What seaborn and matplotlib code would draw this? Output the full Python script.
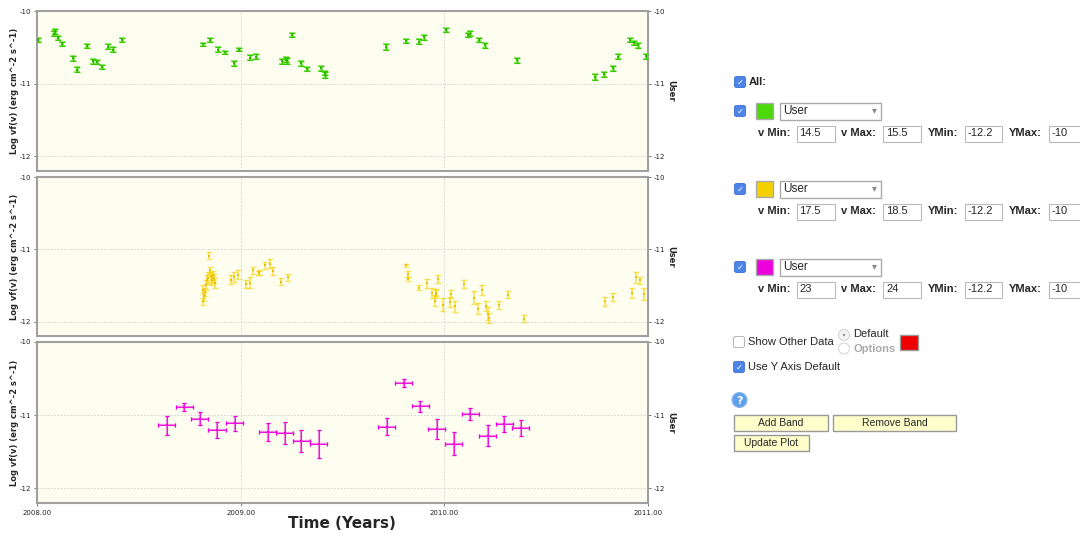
"""
Light curve panels (3 bands) + band control panel
"""

import matplotlib
matplotlib.use("Agg")
import matplotlib.pyplot as plt
from matplotlib.patches import Rectangle, FancyBboxPatch, Circle
import numpy as np
import pandas as pd
import seaborn as sns

# Band 1 (green, nu 14.5-15.5)
green_t = [2008.005, 2008.083, 2008.090, 2008.104, 2008.123, 2008.175, 2008.195,
           2008.247, 2008.273, 2008.297, 2008.317, 2008.347, 2008.371, 2008.415,
           2008.814, 2008.851, 2008.890, 2008.925, 2008.969, 2008.992, 2009.044,
           2009.077, 2009.204, 2009.222, 2009.226, 2009.250, 2009.294, 2009.327,
           2009.396, 2009.412, 2009.414, 2009.716, 2009.810, 2009.874, 2009.902,
           2010.010, 2010.118, 2010.127, 2010.170, 2010.200, 2010.358, 2010.740,
           2010.786, 2010.828, 2010.854, 2010.910, 2010.930, 2010.950, 2010.990]
green_y = [-10.40, -10.31, -10.28, -10.37, -10.45, -10.65, -10.81,
           -10.48, -10.69, -10.70, -10.77, -10.49, -10.53, -10.40,
           -10.46, -10.40, -10.53, -10.57, -10.72, -10.53, -10.64,
           -10.63, -10.69, -10.67, -10.69, -10.33, -10.72, -10.80,
           -10.79, -10.85, -10.88, -10.49, -10.41, -10.42, -10.36,
           -10.26, -10.33, -10.31, -10.40, -10.47, -10.68, -10.91,
           -10.87, -10.79, -10.63, -10.40, -10.44, -10.47, -10.62]
green_err = [0.030, 0.030, 0.030, 0.025, 0.030, 0.035, 0.035,
             0.025, 0.035, 0.030, 0.030, 0.030, 0.040, 0.025,
             0.025, 0.030, 0.030, 0.025, 0.035, 0.025, 0.040,
             0.035, 0.035, 0.035, 0.040, 0.030, 0.035, 0.030,
             0.035, 0.030, 0.035, 0.040, 0.030, 0.030, 0.035,
             0.025, 0.030, 0.030, 0.030, 0.035, 0.040, 0.040,
             0.035, 0.040, 0.035, 0.030, 0.030, 0.035, 0.035]

# Band 2 (yellow, nu 17.5-18.5)
yellow_t = [2008.843, 2008.815, 2008.819, 2008.817, 2008.823, 2008.832, 2008.835,
            2008.840, 2008.848, 2008.853, 2008.858, 2008.864, 2008.868, 2008.873,
            2008.951, 2008.967, 2008.985, 2009.025, 2009.047, 2009.060, 2009.088,
            2009.092, 2009.119, 2009.146, 2009.158, 2009.198, 2009.232, 2009.814,
            2009.820, 2009.823, 2009.877, 2009.917, 2009.940, 2009.952, 2009.957,
            2009.960, 2009.970, 2009.992, 2010.028, 2010.031, 2010.054, 2010.098,
            2010.147, 2010.167, 2010.186, 2010.206, 2010.214, 2010.218, 2010.268,
            2010.314, 2010.390, 2010.790, 2010.828, 2010.923, 2010.941, 2010.960,
            2010.982]
yellow_y = [-11.09, -11.56, -11.65, -11.72, -11.59, -11.49, -11.42,
            -11.40, -11.29, -11.38, -11.42, -11.36, -11.40, -11.47,
            -11.42, -11.38, -11.35, -11.48, -11.46, -11.29, -11.33,
            -11.32, -11.22, -11.20, -11.30, -11.45, -11.39, -11.22,
            -11.34, -11.41, -11.53, -11.47, -11.60, -11.71, -11.60,
            -11.62, -11.41, -11.77, -11.73, -11.62, -11.79, -11.48,
            -11.67, -11.82, -11.56, -11.78, -11.89, -11.95, -11.77,
            -11.63, -11.96, -11.72, -11.66, -11.61, -11.39, -11.43,
            -11.62]
yellow_err = [0.05, 0.06, 0.06, 0.05, 0.06, 0.07, 0.06,
              0.08, 0.05, 0.07, 0.07, 0.06, 0.06, 0.07,
              0.06, 0.07, 0.06, 0.06, 0.07, 0.05, 0.03,
              0.03, 0.05, 0.06, 0.06, 0.05, 0.05, 0.02,
              0.04, 0.03, 0.03, 0.06, 0.07, 0.08, 0.05,
              0.05, 0.06, 0.09, 0.07, 0.05, 0.08, 0.05,
              0.09, 0.07, 0.07, 0.07, 0.09, 0.07, 0.05,
              0.05, 0.05, 0.06, 0.05, 0.07, 0.07, 0.05,
              0.08]

# Band 3 (magenta, nu 23-24), monthly bins
magenta_t = [2008.638, 2008.723, 2008.800, 2008.884, 2008.970, 2009.133, 2009.216,
             2009.298, 2009.383, 2009.717, 2009.800, 2009.882, 2009.963, 2010.047,
             2010.127, 2010.212, 2010.295, 2010.376]
magenta_y = [-11.14, -10.89, -11.05, -11.20, -11.11, -11.23, -11.24,
             -11.35, -11.39, -11.16, -10.56, -10.88, -11.19, -11.39,
             -10.98, -11.28, -11.12, -11.17]
magenta_err = [0.124, 0.055, 0.09, 0.11, 0.10, 0.124, 0.15,
               0.15, 0.19, 0.117, 0.05, 0.07, 0.14, 0.16,
               0.08, 0.14, 0.11, 0.11]
magenta_terr = 0.042

# Control panel values
band_colors = ["#4cd80a", "#f5d000", "#ee00dd"]
band_vmin = ["14.5", "17.5", "23"]
band_vmax = ["15.5", "18.5", "24"]
band_ymin = ["-12.2", "-12.2", "-12.2"]
band_ymax = ["-10", "-10", "-10"]

year_ticks = [2008, 2009, 2010, 2011]
year_labels = ["2008.00", "2009.00", "2010.00", "2011.00"]
flux_ticks = [-10, -11, -12]

sns.set_theme(style="white")
plt.rcParams['font.family'] = ['DejaVu Sans']

fig = plt.figure(figsize=(10.8, 5.36), dpi=100)
W, H = 1080, 536

# panel boxes in pixels: top, bottom
panel_px = [(11, 171), (177, 336), (342, 503)]
x0, x1 = 37, 648

series = [
    (green_t, green_y, green_err, None, band_colors[0]),
    (yellow_t, yellow_y, yellow_err, None, band_colors[1]),
    (magenta_t, magenta_y, magenta_err, magenta_terr, band_colors[2]),
]

axes = []
for i, ((top, bot), (t, y, yerr, terr, col)) in enumerate(zip(panel_px, series)):
    ax = fig.add_axes([x0 / W, 1 - bot / H, (x1 - x0) / W, (bot - top) / H])
    ax.set_facecolor("#fefef0")
    df = pd.DataFrame({"t": t, "flux": y})
    if i == 0:
        ax.errorbar(t, y, yerr=yerr, fmt="none", ecolor="#7ee850", elinewidth=1.8,
                    capsize=2, capthick=1.2, zorder=2)
        ax.errorbar(t, y, yerr=yerr, fmt="none", ecolor="#38c800", elinewidth=0.8,
                    capsize=2, capthick=0.8, zorder=3)
        sns.scatterplot(data=df, x="t", y="flux", ax=ax, color="#30b800", marker="s",
                        s=2, linewidth=0, zorder=4)
    elif i == 1:
        ax.errorbar(t, y, yerr=yerr, fmt="none", ecolor=col, elinewidth=1.2,
                    capsize=2, capthick=1.0, alpha=0.6, zorder=2)
        sns.scatterplot(data=df, x="t", y="flux", ax=ax, color="#e8c000", marker="s",
                        s=3, linewidth=0, zorder=3)
    else:
        ax.errorbar(t, y, yerr=yerr, xerr=terr, fmt="none", ecolor="#f070e0",
                    elinewidth=1.6, capsize=1.5, capthick=1.0, alpha=0.9, zorder=2)
        ax.errorbar(t, y, yerr=yerr, xerr=terr, fmt="none", ecolor=col,
                    elinewidth=0.6, capsize=1.5, capthick=0.8, zorder=3)
        sns.scatterplot(data=df, x="t", y="flux", ax=ax, color=col, marker="s",
                        s=3, linewidth=0, zorder=4)

    ax.set_xlim(2008, 2011)
    ax.set_ylim(-12.2, -10)
    ax.set_xticks(year_ticks)
    ax.set_yticks(flux_ticks)
    ax.set_yticklabels([str(v) for v in flux_ticks])
    ax.grid(True, color="#cccccc", linestyle=(0, (2, 2)), linewidth=0.6)
    for s in ax.spines.values():
        s.set_color("#a0a0a0")
        s.set_linewidth(1.5)
    ax.tick_params(axis="y", which="both", left=True, right=True, labelleft=True,
                   labelright=True, length=2, width=0.6, color="#666666",
                   labelsize=5, pad=2, labelcolor="#222222")
    ax.tick_params(axis="x", length=2, width=0.6, color="#666666", labelsize=5,
                   pad=3, labelcolor="#222222", bottom=(i == 2))
    if i == 2:
        ax.set_xticklabels(year_labels)
    else:
        ax.set_xticklabels([])
    ax.set_xlabel("")
    ax.set_ylabel("Log vf(v) (erg cm^-2 s^-1)", fontsize=6, fontweight="bold",
                  labelpad=1)
    ax.text(1.037, 0.5, "User", transform=ax.transAxes, rotation=270,
            ha="center", va="center", fontsize=6, fontweight="bold")
    axes.append(ax)

fig.text(342 / W, 1 - 524 / H, "Time (Years)", ha="center", va="center",
         fontsize=11, fontweight="bold")

# ---- control panel, drawn in pixel coordinates ----
ui = fig.add_axes([0, 0, 1, 1], zorder=10)
ui.set_xlim(0, W)
ui.set_ylim(H, 0)
ui.axis("off")
ui.patch.set_alpha(0)
uifont = ['Liberation Sans', 'DejaVu Sans']


def checkbox(cx, cy, checked=True):
    if checked:
        ui.add_patch(FancyBboxPatch((cx - 5.5, cy - 5.5), 11, 11,
                                    boxstyle="round,pad=0,rounding_size=2",
                                    fc="#4d84e8", ec="#3a6fd0", lw=0.6))
        ui.text(cx, cy + 0.5, "✓", ha="center", va="center", color="white",
                fontsize=6, fontweight="bold", family=['DejaVu Sans'])
    else:
        ui.add_patch(FancyBboxPatch((cx - 5.5, cy - 5.5), 11, 11,
                                    boxstyle="round,pad=0,rounding_size=2",
                                    fc="white", ec="#aaaaaa", lw=0.6))


def field(xa, xb, cy, txt):
    ui.add_patch(Rectangle((xa, cy - 8), xb - xa, 16, fc="white",
                           ec="#bbbbbb", lw=0.8))
    ui.text(xa + 3, cy, txt, ha="left", va="center", fontsize=8, family=uifont)


def button(xa, xb, cy, txt):
    ui.add_patch(Rectangle((xa, cy - 8), xb - xa, 16, fc="#ffffcc",
                           ec="#999999", lw=1.0))
    ui.text((xa + xb) / 2, cy, txt, ha="center", va="center", fontsize=7.5,
            family=uifont)


checkbox(740, 82)
ui.text(749, 82, "All:", ha="left", va="center", fontsize=8, fontweight="bold",
        family=uifont)

rows_y = [111, 189, 267]
for cy, col, vmin, vmax, ymn, ymx in zip(rows_y, band_colors, band_vmin,
                                         band_vmax, band_ymin, band_ymax):
    checkbox(740, cy)
    ui.add_patch(Rectangle((756, cy - 8), 17, 16, fc=col, ec="#aaaaaa", lw=1.0))
    ui.add_patch(Rectangle((780, cy - 8.5), 101, 17, fc="white", ec="#aaaaaa", lw=1.0))
    ui.text(783, cy, "User", ha="left", va="center", fontsize=8.5, family=uifont)
    ui.text(874, cy - 0.5, "▾", ha="center", va="center", fontsize=7,
            color="#888888", family=['DejaVu Sans'])
    fy = cy + 22.5
    ui.text(758, fy, "v Min:", ha="left", va="center", fontsize=8,
            fontweight="bold", family=uifont)
    field(796.5, 834.5, fy, vmin)
    ui.text(841, fy, "v Max:", ha="left", va="center", fontsize=8,
            fontweight="bold", family=uifont)
    field(883, 920.5, fy, vmax)
    ui.text(927.5, fy, "YMin:", ha="left", va="center", fontsize=8,
            fontweight="bold", family=uifont)
    field(964.5, 1002, fy, ymn)
    ui.text(1008.5, fy, "YMax:", ha="left", va="center", fontsize=8,
            fontweight="bold", family=uifont)
    field(1048.5, 1090, fy, ymx)

checkbox(739, 342, checked=False)
ui.text(748, 342, "Show Other Data", ha="left", va="center", fontsize=8,
        family=uifont)
ui.add_patch(Circle((844, 335), 5.5, fc="#f4f4f4", ec="#cccccc", lw=0.6))
ui.add_patch(Circle((844, 335), 1.2, fc="#999999", ec="none"))
ui.text(853, 334, "Default", ha="left", va="center", fontsize=8, family=uifont)
ui.add_patch(Circle((844, 348.5), 5.5, fc="white", ec="#cccccc", lw=0.6))
ui.text(853, 348.5, "Options", ha="left", va="center", fontsize=8,
        fontweight="bold", color="#aaaaaa", family=uifont)
ui.add_patch(Rectangle((900, 334.5), 17.5, 15.5, fc="#ee0000", ec="#999999", lw=1.0))

checkbox(739, 367)
ui.text(748, 367, "Use Y Axis Default", ha="left", va="center", fontsize=8,
        family=uifont)

ui.add_patch(Circle((739.5, 400), 7.5, fc="#5fa0ea", ec="#8ab8ee", lw=0.8))
ui.text(739.5, 400.5, "?", ha="center", va="center", fontsize=8,
        fontweight="bold", color="white", family=['DejaVu Sans'])

button(733.5, 827.5, 422.5, "Add Band")
button(833, 956, 422.5, "Remove Band")
button(733.5, 809, 442.5, "Update Plot")

fig.savefig("out.png", dpi=100, facecolor="white")
